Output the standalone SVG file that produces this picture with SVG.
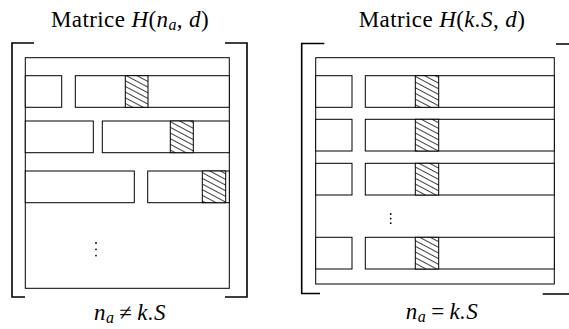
<svg xmlns="http://www.w3.org/2000/svg" width="569" height="329" viewBox="0 0 569 329">
  <style>
    .box { fill: #fff; stroke: #000; stroke-width: 1; }
    .frame { fill: #fff; stroke: #000; stroke-width: 1; }
    .hatch { fill: url(#hatch); stroke: #000; stroke-width: 1; }
    .br { fill: none; stroke: #000; stroke-width: 1.6; }
    .t { font-family: "Liberation Serif", "DejaVu Serif", serif; font-size: 23px; letter-spacing: 0.4px; fill: #000; }
    .m { font-style: italic; }
    .dot { fill: #000; }
  </style>
  <defs>
    <pattern id="hatch" patternUnits="userSpaceOnUse" width="12" height="5" patternTransform="rotate(28)">
      <rect width="12" height="5" fill="#fff"/>
      <line x1="0" y1="2.5" x2="12" y2="2.5" stroke="#000" stroke-width="0.75"/>
    </pattern>
  </defs>

  <g id="left-matrix">
    <text class="t" x="130" y="27" text-anchor="middle">Matrice <tspan class="m">H</tspan>(<tspan class="m">n</tspan><tspan class="m" font-size="16" dy="3">a</tspan><tspan dy="-3">, </tspan><tspan class="m">d</tspan>)</text>
    <path class="br" d="M34,43 H12 V297 H25"/>
    <path class="br" d="M225,43 H247 V297 H225"/>
    <rect class="frame" x="25.3" y="57.7" width="204" height="230.6"/>
    <g id="l-row1">
      <rect class="box" x="25.3" y="75.7" width="36.4" height="31.6"/>
      <rect class="box" x="75.3" y="75.7" width="154" height="31.6"/>
      <rect class="hatch" x="125.3" y="75.7" width="22.7" height="31.6"/>
    </g>
    <g id="l-row2">
      <rect class="box" x="25.3" y="121" width="68" height="31.7"/>
      <rect class="box" x="102.3" y="121" width="127" height="31.7"/>
      <rect class="hatch" x="170.3" y="121" width="23" height="31.7"/>
    </g>
    <g id="l-row3">
      <rect class="box" x="25.3" y="171" width="109" height="31.7"/>
      <rect class="box" x="147.7" y="171" width="81.6" height="31.7"/>
      <rect class="hatch" x="202.3" y="171" width="23.4" height="31.7"/>
    </g>
    <circle class="dot" cx="96" cy="243" r="0.9"/>
    <circle class="dot" cx="96" cy="249.3" r="0.9"/>
    <circle class="dot" cx="96" cy="255.6" r="0.9"/>
    <text class="t m" x="130" y="320" text-anchor="middle">n<tspan font-size="16" dy="3">a</tspan><tspan dy="-3" dx="5" font-style="normal">≠</tspan><tspan dx="5">k.S</tspan></text>
  </g>

  <g id="right-matrix">
    <text class="t" x="442" y="27" text-anchor="middle">Matrice <tspan class="m">H</tspan>(<tspan class="m">k.S</tspan>, <tspan class="m">d</tspan>)</text>
    <path class="br" d="M324.3,43.5 H301.7 V293.5 H320"/>
    <path class="br" d="M556,44 H578 V294 H542.7"/>
    <rect class="frame" x="315.7" y="57.7" width="238.6" height="226.3"/>
    <g id="r-row1">
      <rect class="box" x="315.7" y="75.7" width="36.3" height="31.6"/>
      <rect class="box" x="365.3" y="75.7" width="189" height="31.6"/>
      <rect class="hatch" x="415.3" y="75.7" width="23.4" height="31.6"/>
    </g>
    <g id="r-row2">
      <rect class="box" x="315.7" y="119.3" width="36.3" height="31.7"/>
      <rect class="box" x="365.3" y="119.3" width="189" height="31.7"/>
      <rect class="hatch" x="415.3" y="119.3" width="23.4" height="31.7"/>
    </g>
    <g id="r-row3">
      <rect class="box" x="315.7" y="163.3" width="36.3" height="31.7"/>
      <rect class="box" x="365.3" y="163.3" width="189" height="31.7"/>
      <rect class="hatch" x="415.3" y="163.3" width="23.4" height="31.7"/>
    </g>
    <g id="r-row4">
      <rect class="box" x="315.7" y="237.3" width="36.3" height="31.7"/>
      <rect class="box" x="365.3" y="237.3" width="189" height="31.7"/>
      <rect class="hatch" x="415.3" y="237.3" width="23.4" height="31.7"/>
    </g>
    <circle class="dot" cx="390.7" cy="214" r="0.9"/>
    <circle class="dot" cx="390.7" cy="218.6" r="0.9"/>
    <circle class="dot" cx="390.7" cy="223.2" r="0.9"/>
    <text class="t m" x="442" y="319" text-anchor="middle">n<tspan font-size="16" dy="3">a</tspan><tspan dy="-3" dx="5" font-style="normal">=</tspan><tspan dx="5">k.S</tspan></text>
  </g>
</svg>
